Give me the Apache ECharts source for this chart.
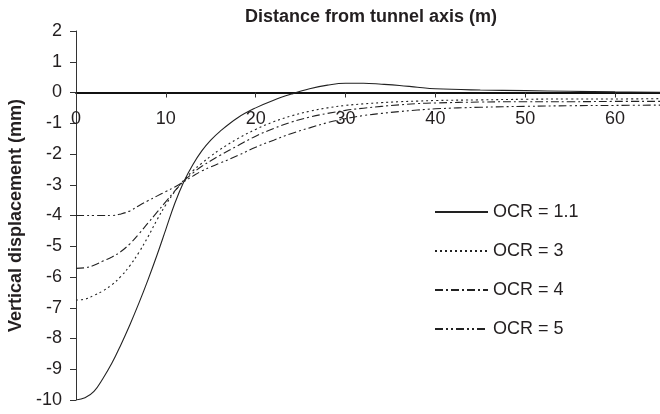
<!DOCTYPE html>
<html>
<head>
<meta charset="utf-8">
<script src="https://cdn.jsdelivr.net/npm/echarts@6/dist/echarts.min.js"></script>
<style>html,body{margin:0;padding:0;background:#fff;}#chart{width:660px;height:414px;}</style>
</head>
<body>
<div id="chart"></div>
<script>
var distance = [0,1,2,3,4,5,6,7,8,9,10,11,12,13,14,15,16,18,20,22,24,26,28,30,32,34,36,38,40,45,50,55,60,65];
var ocr11 = [-10,-9.93,-9.72,-9.3,-8.8,-8.2,-7.55,-6.85,-6.1,-5.3,-4.45,-3.6,-2.9,-2.35,-1.9,-1.55,-1.27,-0.82,-0.5,-0.25,-0.05,0.12,0.24,0.3,0.3,0.27,0.23,0.17,0.12,0.08,0.06,0.04,0.02,0.01];
var ocr3 = [-6.75,-6.72,-6.6,-6.45,-6.25,-5.98,-5.63,-5.2,-4.7,-4.15,-3.65,-3.22,-2.85,-2.55,-2.3,-2.07,-1.86,-1.5,-1.2,-0.95,-0.76,-0.61,-0.5,-0.42,-0.37,-0.33,-0.3,-0.28,-0.26,-0.24,-0.22,-0.21,-0.21,-0.2];
var ocr4 = [-5.72,-5.7,-5.62,-5.48,-5.35,-5.17,-4.92,-4.6,-4.25,-3.9,-3.55,-3.2,-2.88,-2.62,-2.4,-2.22,-2.05,-1.73,-1.42,-1.17,-0.96,-0.8,-0.68,-0.58,-0.51,-0.45,-0.4,-0.36,-0.34,-0.31,-0.3,-0.3,-0.29,-0.29];
var ocr5 = [-4.0,-4.0,-4.0,-4.0,-4.0,-3.95,-3.85,-3.68,-3.52,-3.37,-3.22,-3.07,-2.9,-2.72,-2.55,-2.42,-2.3,-2.05,-1.78,-1.55,-1.33,-1.15,-0.98,-0.85,-0.75,-0.68,-0.62,-0.57,-0.53,-0.48,-0.45,-0.43,-0.42,-0.41];
var seriesNames = ['OCR = 1.1','OCR = 3','OCR = 4','OCR = 5'];
var xTitle = 'Distance from tunnel axis (m)';
var yTitle = 'Vertical displacement (mm)';

function pairs(ys){ return distance.map(function(x,i){ return [x, ys[i]]; }); }
var dashTypes = ['solid',[2,3],[8,3,2,3],[8,3,2,3,2,3]];
var allData = [ocr11, ocr3, ocr4, ocr5];
var FONT = '"Liberation Sans", Arial, sans-serif';
var GRID_TOP = 31;
var chart = echarts.init(document.getElementById('chart'), null, {renderer:'canvas'});
function build(xOffset){
  return {
    animation:false,
    backgroundColor:'#fff',
    title:{text:xTitle,left:240,top:3,textStyle:{fontFamily:FONT,fontSize:18,fontWeight:'bold',color:'#231f20'}},
    grid:{left:76,right:0,top:GRID_TOP,bottom:14,containLabel:false,outerBoundsMode:'none'},
    legend:{
      orient:'vertical',left:429,top:197,itemWidth:53,itemHeight:14,itemGap:19,
      data:seriesNames,
      textStyle:{fontFamily:FONT,fontSize:18,color:'#231f20',lineHeight:20},
      lineStyle:{width:2},
      itemStyle:{color:'transparent',borderWidth:0,opacity:0}
    },
    xAxis:{
      type:'value',min:0,max:65,interval:10,position:'top',offset:xOffset,
      axisLine:{onZero:false,lineStyle:{color:'#111',width:2}},
      axisTick:{show:true,inside:true,length:5,lineStyle:{color:'#333'}},
      axisLabel:{inside:true,margin:18,fontFamily:FONT,fontSize:18,color:'#231f20',showMaxLabel:false},
      splitLine:{show:false}
    },
    yAxis:{
      type:'value',min:-10,max:2,interval:1,
      name:yTitle,nameLocation:'middle',nameGap:48,
      nameTextStyle:{fontFamily:FONT,fontSize:18,fontWeight:'bold',color:'#231f20'},
      axisLine:{show:true,onZero:false,lineStyle:{color:'#333',width:1}},
      axisTick:{show:true,length:6,lineStyle:{color:'#333'}},
      axisLabel:{margin:14,fontFamily:FONT,fontSize:18,color:'#231f20'},
      splitLine:{show:false}
    },
    series: seriesNames.map(function(n,i){
      return {
        name:n,type:'line',data:pairs(allData[i]),symbol:'none',
        smooth:0.4,
        lineStyle:{color:'#222',width:1.1,type:dashTypes[i]},
        itemStyle:{color:'#222'}
      };
    })
  };
}
chart.setOption(build(0));
var y0 = chart.convertToPixel({yAxisIndex:0}, 0);
chart.setOption(build(-(y0 - GRID_TOP)), true);
</script>
</body>
</html>
